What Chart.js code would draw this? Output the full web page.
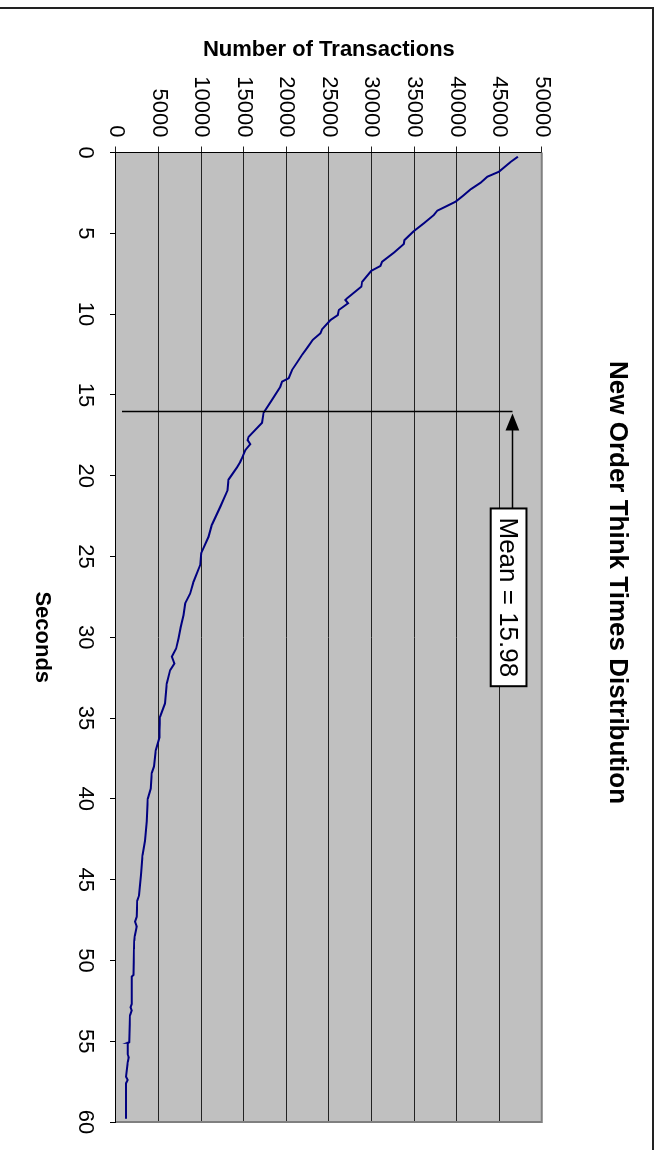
<!DOCTYPE html>
<html>
<head>
<meta charset="utf-8">
<script src="https://cdn.jsdelivr.net/npm/chart.js@4.4.1/dist/chart.umd.min.js"></script>
<style>
    body { margin: 0; background: #ffffff; width: 660px; height: 1150px; overflow: hidden; }
    /* the chart is drawn landscape and turned a quarter clockwise */
    #ChartBox { position: absolute; left: 0; top: 0; width: 1150px; height: 660px; transform-origin: 0 0; transform: translate(660px, 0) rotate(90deg); }
</style>
</head>
<body>
<div id="ChartBox"><canvas id="MyChart" width="1150" height="660"></canvas></div>
<script>
var seconds = [0.26, 0.6, 1.19, 1.5, 1.87, 2.28, 2.7, 3.04, 3.3, 3.6, 3.87, 4.38, 4.9, 5.42, 5.66, 6.2, 6.76, 7.02, 7.33, 8.0, 8.3, 9.02, 9.13, 9.33, 9.75, 10.06, 10.37, 10.94, 11.19, 11.6, 12.05, 12.53, 13.0, 13.46, 13.97, 14.18, 14.5, 15.32, 16.1, 16.73, 17.6, 17.8, 18.05, 18.42, 18.93, 19.14, 19.5, 20.24, 20.9, 21.93, 23.06, 23.79, 24.8, 25.54, 26.57, 27.3, 27.9, 28.64, 29.36, 30.08, 30.7, 31.2, 31.63, 32.04, 32.87, 34.1, 34.93, 35.76, 36.2, 37.0, 38.0, 38.4, 39.37, 40.0, 41.4, 42.6, 43.5, 44.7, 45.97, 46.3, 47.3, 47.6, 47.9, 48.5, 48.8, 49.3, 50.9, 51.0, 52.7, 52.9, 53.1, 53.4, 55.06, 55.1, 55.8, 56.0, 56.3, 57.2, 57.4, 57.6, 58.05, 59.8];
var transactions = [47200, 46300, 44970, 43610, 42820, 41650, 40700, 39880, 38900, 37730, 37330, 36160, 34900, 33880, 33800, 32630, 31250, 31060, 29960, 28900, 28820, 27140, 26940, 27250, 26160, 26040, 25180, 24200, 24000, 23100, 22500, 21840, 21250, 20670, 20270, 19490, 19290, 18310, 17330, 17140, 15570, 15450, 15760, 15180, 14790, 14590, 14200, 13220, 13100, 12240, 11250, 10860, 10000, 9880, 9100, 8700, 8120, 7920, 7610, 7330, 7060, 6550, 6860, 6350, 5960, 5760, 5180, 5100, 5100, 4670, 4470, 4200, 4080, 3730, 3610, 3410, 3100, 2940, 2710, 2500, 2430, 2250, 2430, 2200, 2150, 2100, 2050, 1850, 1850, 1700, 1850, 1650, 1570, 1370, 1370, 1500, 1370, 1180, 1370, 1180, 1180, 1180];

var secondTicks = [0, 5, 10, 15, 20, 25, 30, 35, 40, 45, 50, 55, 60];
var transactionTicks = [0, 5000, 10000, 15000, 20000, 25000, 30000, 35000, 40000, 45000, 50000];

var meanSeconds = 15.98;
var meanLabel = "Mean = 15.98";

// where the mean note sits, in chart units
var meanLineFrom = 700;
var meanLineTo = 46550;
var noteSeconds = [22.03, 33.03];
var noteTransactions = [44000, 48200];

var fontName = "'Liberation Sans', Arial, sans-serif";
var ChartView;

var excelLook = {
    id: "excelLook",
    beforeDraw: (chart) => {
        const ctx = chart.ctx;
        const a = chart.chartArea;
        ctx.save();
        ctx.fillStyle = "#c0c0c0";
        ctx.fillRect(a.left, a.top, a.right - a.left, a.bottom - a.top);
        ctx.restore();
    },
    afterDraw: (chart) => {
        const ctx = chart.ctx;
        const a = chart.chartArea;
        const xs = chart.scales.x;
        const ys = chart.scales.y;
        ctx.save();

        // grey plot edges on the far sides
        ctx.strokeStyle = "#808080";
        ctx.lineWidth = 2;
        ctx.beginPath();
        ctx.moveTo(a.left, a.top);
        ctx.lineTo(a.right, a.top);
        ctx.lineTo(a.right, a.bottom);
        ctx.stroke();

        // mean line
        let mx = Math.round(xs.getPixelForValue(meanSeconds)) + 0.5;
        let topY = ys.getPixelForValue(meanLineTo);
        ctx.strokeStyle = "#000000";
        ctx.lineWidth = 1.5;
        ctx.beginPath();
        ctx.moveTo(mx, ys.getPixelForValue(meanLineFrom));
        ctx.lineTo(mx, topY);
        ctx.stroke();

        // arrow from the note to the line
        let boxLeft = xs.getPixelForValue(noteSeconds[0]);
        let tipX = mx + 2;
        ctx.beginPath();
        ctx.moveTo(boxLeft, topY);
        ctx.lineTo(tipX + 16, topY);
        ctx.stroke();
        ctx.fillStyle = "#000000";
        ctx.beginPath();
        ctx.moveTo(tipX, topY);
        ctx.lineTo(tipX + 17, topY - 6.8);
        ctx.lineTo(tipX + 17, topY + 6.8);
        ctx.closePath();
        ctx.fill();

        // note box
        let bx1 = xs.getPixelForValue(noteSeconds[0]);
        let bx2 = xs.getPixelForValue(noteSeconds[1]);
        let by1 = ys.getPixelForValue(noteTransactions[1]);
        let by2 = ys.getPixelForValue(noteTransactions[0]);
        ctx.fillStyle = "#ffffff";
        ctx.fillRect(bx1, by1, bx2 - bx1, by2 - by1);
        ctx.lineWidth = 2;
        ctx.strokeRect(bx1, by1, bx2 - bx1, by2 - by1);
        ctx.fillStyle = "#000000";
        ctx.font = "26px " + fontName;
        ctx.textAlign = "center";
        ctx.textBaseline = "middle";
        ctx.fillText(meanLabel, (bx1 + bx2) / 2, (by1 + by2) / 2 + 1);

        // outer chart frame
        ctx.strokeStyle = "#222222";
        ctx.lineWidth = 2;
        ctx.beginPath();
        ctx.moveTo(8, 700);
        ctx.lineTo(8, 7);
        ctx.lineTo(1200, 7);
        ctx.stroke();

        ctx.restore();
    }
};

document.addEventListener("DOMContentLoaded", () => {
    const ctx = document.getElementById("MyChart");
    let points = seconds.map((s, i) => ({ x: s, y: transactions[i] }));

    ChartView = new Chart(ctx, {
        type: "line",
        data: {
            datasets: [{
                label: "Transactions",
                data: points,
                borderColor: "#000080",
                borderWidth: 2,
                pointRadius: 0,
                tension: 0,
                fill: false
            }]
        },
        options: {
            responsive: false,
            animation: false,
            layout: { padding: { left: 43, right: 28, top: 0, bottom: 0 } },
            plugins: {
                legend: { display: false },
                tooltip: { enabled: false },
                title: {
                    display: true,
                    text: "New Order Think Times Distribution",
                    color: "#000000",
                    font: { family: fontName, size: 26, weight: "bold" },
                    padding: { top: 27, bottom: 60 }
                }
            },
            scales: {
                x: {
                    type: "linear",
                    min: 0,
                    max: 60,
                    afterBuildTicks: (scale) => { scale.ticks = secondTicks.map((v) => ({ value: v })); },
                    afterFit: (scale) => { scale.height = 116; },
                    grid: { drawOnChartArea: false, drawTicks: true, tickLength: 6, color: "#000000" },
                    border: { display: true, color: "#000000", width: 1 },
                    ticks: {
                        color: "#000000",
                        padding: 12,
                        maxRotation: 0,
                        font: { family: fontName, size: 22 },
                        callback: (v) => String(v)
                    },
                    title: {
                        display: true,
                        text: "Seconds",
                        color: "#000000",
                        font: { family: fontName, size: 22, weight: "bold" },
                        padding: { top: 0, bottom: 29 }
                    }
                },
                y: {
                    min: 0,
                    max: 50000,
                    afterBuildTicks: (scale) => { scale.ticks = transactionTicks.map((v) => ({ value: v })); },
                    afterFit: (scale) => { scale.width = 109.5; },
                    grid: { color: "#222222", lineWidth: 1, drawTicks: true, tickLength: 6 },
                    border: { display: true, color: "#000000", width: 1 },
                    ticks: {
                        color: "#000000",
                        padding: 9,
                        font: { family: fontName, size: 22 },
                        callback: (v) => String(v)
                    },
                    title: {
                        display: true,
                        text: "Number of Transactions",
                        color: "#000000",
                        font: { family: fontName, size: 22, weight: "bold" },
                        padding: { top: -6, bottom: 0 }
                    }
                }
            }
        },
        plugins: [excelLook]
    });
});
</script>
</body>
</html>
